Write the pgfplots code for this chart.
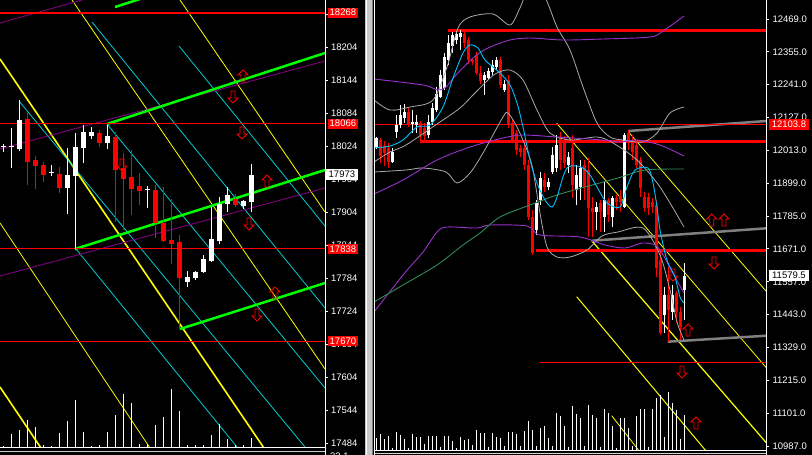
\documentclass[border=0pt]{standalone}
\usepackage{fontspec}
\setmainfont{Liberation Sans}
\usepackage{pgfplots}
\pgfplotsset{compat=1.18}
\usepackage{pgfplotstable}
\definecolor{mtred}{RGB}{255,0,0}
\definecolor{mtcyan}{RGB}{0,206,209}
\definecolor{mtpurple}{RGB}{128,0,128}
\definecolor{mtviolet}{RGB}{153,50,204}
\definecolor{mtsky}{RGB}{0,191,255}
\definecolor{mtsea}{RGB}{46,139,87}
\definecolor{mtgray}{RGB}{128,128,128}
\definecolor{mtsilver}{RGB}{170,170,170}
\definecolor{mtlime}{RGB}{0,255,0}
\definecolor{mtyellow}{RGB}{255,255,0}
\newcommand\tf{\fontsize{9.5}{10}\selectfont}
\pgfdeclareplotmark{uarr}{%
 \pgfpathmoveto{\pgfqpoint{0pt}{6pt}}\pgfpathlineto{\pgfqpoint{5pt}{1pt}}%
 \pgfpathlineto{\pgfqpoint{2pt}{1pt}}\pgfpathlineto{\pgfqpoint{2pt}{-6pt}}%
 \pgfpathlineto{\pgfqpoint{-2pt}{-6pt}}\pgfpathlineto{\pgfqpoint{-2pt}{1pt}}%
 \pgfpathlineto{\pgfqpoint{-5pt}{1pt}}\pgfpathclose\pgfusepathqstroke}
\pgfdeclareplotmark{darr}{%
 \pgfpathmoveto{\pgfqpoint{0pt}{-6pt}}\pgfpathlineto{\pgfqpoint{5pt}{-1pt}}%
 \pgfpathlineto{\pgfqpoint{2pt}{-1pt}}\pgfpathlineto{\pgfqpoint{2pt}{6pt}}%
 \pgfpathlineto{\pgfqpoint{-2pt}{6pt}}\pgfpathlineto{\pgfqpoint{-2pt}{-1pt}}%
 \pgfpathlineto{\pgfqpoint{-5pt}{-1pt}}\pgfpathclose\pgfusepathqstroke}
% left panel candles (x = bar position, prices)
\pgfplotstableread{
x o h l c
3.3 18023.8 18028.7 18014.2 18025.6
11.3 18023.3 18057.8 17985.0 18025.1
19.3 18019.6 18108.8 18016.0 18072.4
51.3 17975.9 17990.5 17970.5 17977.7
67.3 17948.6 18021.4 17901.3 17972.3
75.3 17970.5 18048.7 17837.6 18023.3
83.3 18021.4 18063.3 17994.1 18050.6
91.3 18042.4 18059.7 18038.7 18050.6
107.3 18030.5 18063.3 18019.6 18043.3
147.3 17945.0 17952.3 17912.2 17946.8
187.3 17777.6 17797.6 17768.5 17786.7
195.3 17784.9 17797.6 17781.2 17795.8
203.3 17795.8 17826.7 17794.0 17819.4
211.3 17815.8 17914.1 17814.0 17855.8
219.3 17852.2 17932.3 17846.7 17919.5
227.3 17919.5 17950.5 17905.0 17935.9
243.3 17915.9 17926.8 17910.4 17925.0
251.3 17923.2 17992.3 17905.0 17972.3
}\LW
\pgfplotstableread{
x o h l c
27.3 18074.2 18085.1 17954.1 17996.0
35.3 17999.6 18006.9 17946.9 17988.7
43.3 17990.5 17996.0 17959.6 17972.3
59.3 17974.1 17986.9 17939.5 17948.6
99.3 18048.7 18054.2 18023.3 18030.5
115.3 18041.5 18050.6 17886.8 17981.4
123.3 17985.0 18012.3 17872.2 17965.0
131.3 17968.7 18017.8 17899.5 17946.9
139.3 17952.3 17976.0 17917.7 17943.2
155.3 17945.0 17954.1 17857.6 17884.9
163.3 17884.9 17950.5 17850.4 17852.2
171.3 17854.0 17928.6 17810.3 17846.7
179.3 17850.4 17863.1 17692.0 17784.9
235.3 17928.6 17937.7 17914.1 17917.7
}\LR
\pgfplotstableread{
x v
3.3 1
11.3 13
19.3 17
27.3 27
35.3 20
43.3 2
51.3 1
59.3 14
67.3 26
75.3 47
83.3 15
91.3 1
99.3 2
107.3 15
115.3 32
123.3 53
131.3 44
139.3 3
147.3 3
155.3 22
163.3 30
171.3 58
179.3 36
187.3 2
195.3 2
203.3 2
211.3 12
219.3 23
227.3 8
235.3 2
243.3 2
251.3 9
}\LV
% right panel candles
\pgfplotstableread{
x o h l c
376.5 12024.7 12059.4 12017.7 12055.9
392.5 11972.6 12021.2 11969.1 12007.3
396.5 12076.7 12135.7 12055.9 12101.0
400.5 12101.0 12170.4 12090.6 12135.7
404.5 12125.3 12173.9 12108.0 12146.1
412.5 12104.5 12153.1 12073.3 12111.4
416.5 12101.0 12135.7 12073.3 12111.4
428.5 12066.3 12135.7 12055.9 12111.4
432.5 12111.4 12177.4 12101.0 12160.0
436.5 12153.1 12232.9 12146.1 12208.6
440.5 12198.2 12291.9 12194.7 12274.6
444.5 12229.5 12350.9 12222.5 12337.1
448.5 12326.6 12413.4 12309.3 12385.6
452.5 12375.2 12423.8 12350.9 12413.4
456.5 12396.1 12427.3 12382.2 12416.9
460.5 12406.5 12430.8 12361.3 12420.4
484.5 12257.2 12285.0 12205.2 12274.6
488.5 12264.2 12298.9 12257.2 12288.5
492.5 12285.0 12326.6 12274.6 12309.3
496.5 12302.3 12337.1 12291.9 12326.6
504.5 12222.5 12257.2 12215.6 12243.3
536.5 11736.6 11840.7 11719.2 11830.3
540.5 11840.7 11937.9 11823.3 11917.1
548.5 11885.8 11917.1 11875.4 11903.2
552.5 11937.9 12024.7 11930.9 11996.9
556.5 11951.8 12066.3 11937.9 12031.6
568.5 11962.2 12007.3 11934.4 11990.0
576.5 11875.4 11962.2 11823.3 11927.5
580.5 11885.8 11979.5 11840.7 11951.8
596.5 11799.0 11833.8 11736.6 11816.4
604.5 11781.7 11903.2 11729.6 11840.7
612.5 11781.7 11854.6 11747.0 11847.6
624.5 11816.4 12073.3 11812.9 12066.3
664.5 11441.5 11538.7 11379.1 11511.0
672.5 11452.0 11545.7 11424.2 11511.0
684.5 11528.3 11622.0 11424.2 11576.9
}\RW
\pgfplotstableread{
x o h l c
380.5 12049.0 12055.9 11969.1 11993.4
384.5 12028.1 12045.5 11958.7 12003.8
388.5 12021.2 12038.5 11951.8 11972.6
408.5 12146.1 12160.0 12094.1 12101.0
420.5 12108.0 12114.9 12049.0 12066.3
424.5 12090.6 12108.0 12049.0 12062.8
464.5 12416.9 12427.3 12368.3 12385.6
468.5 12396.1 12406.5 12312.8 12326.6
472.5 12326.6 12333.6 12309.3 12319.7
476.5 12344.0 12354.4 12274.6 12281.5
480.5 12281.5 12305.8 12243.3 12253.7
500.5 12326.6 12337.1 12229.5 12239.9
508.5 12257.2 12274.6 12090.6 12101.0
512.5 12108.0 12118.4 12038.5 12045.5
516.5 12073.3 12083.7 11996.9 12014.2
520.5 12021.2 12031.6 11990.0 12007.3
524.5 12021.2 12038.5 11944.8 11962.2
528.5 11962.2 11979.5 11771.3 11781.7
532.5 11781.7 11806.0 11649.8 11656.7
544.5 11910.1 11934.4 11868.5 11885.8
560.5 12059.4 12076.7 11944.8 11979.5
564.5 12049.0 12062.8 11951.8 11969.1
572.5 12021.2 12066.3 11847.6 11892.8
584.5 11962.2 11979.5 11840.7 11885.8
588.5 11944.8 11986.5 11712.3 11812.9
592.5 11812.9 11851.1 11712.3 11799.0
600.5 11830.3 11840.7 11729.6 11799.0
608.5 11840.7 11847.6 11764.3 11788.6
616.5 11847.6 11858.1 11806.0 11833.8
620.5 11854.6 11875.4 11799.0 11833.8
628.5 12073.3 12083.7 12014.2 12038.5
632.5 12042.0 12066.3 11979.5 12007.3
636.5 12031.6 12042.0 11951.8 11962.2
640.5 11979.5 11990.0 11851.1 11882.4
644.5 11851.1 11868.5 11799.0 11812.9
648.5 11851.1 11865.0 11788.6 11812.9
652.5 11833.8 11847.6 11795.6 11816.4
656.5 11823.3 11840.7 11573.4 11604.7
660.5 11632.4 11660.2 11372.1 11379.1
668.5 11511.0 11608.1 11347.8 11458.9
676.5 11517.9 11524.8 11413.8 11452.0
680.5 11452.0 11469.3 11354.8 11399.9
}\RR
\pgfplotstableread{
x v
376.5 12
380.5 16
384.5 11
388.5 14
392.5 2
396.5 18
400.5 15
404.5 11
408.5 2
412.5 16
416.5 13
420.5 13
424.5 6
428.5 14
432.5 14
436.5 14
440.5 3
444.5 14
448.5 14
452.5 9
456.5 2
460.5 13
464.5 10
468.5 11
472.5 5
476.5 20
480.5 17
484.5 17
488.5 3
492.5 17
496.5 13
500.5 12
504.5 4
508.5 18
512.5 18
516.5 16
520.5 4
524.5 19
528.5 29
532.5 20
536.5 4
540.5 22
544.5 24
548.5 12
552.5 4
556.5 37
560.5 34
564.5 24
568.5 3
572.5 44
576.5 36
580.5 32
584.5 4
588.5 45
592.5 35
596.5 32
600.5 3
604.5 41
608.5 37
612.5 24
616.5 2
620.5 32
624.5 32
628.5 22
632.5 4
636.5 34
640.5 41
644.5 41
648.5 3
652.5 41
656.5 52
660.5 55
664.5 13
668.5 58
672.5 47
676.5 40
680.5 11
684.5 35
}\RV
\pgfplotsset{
  Lbox/.style={at={(0pt,-447pt)}, anchor=south west, scale only axis, width=325pt, height=447pt, xmin=0, xmax=325},
  Rbox/.style={at={(374pt,-450pt)}, anchor=south west, scale only axis, width=392.5pt, height=450pt, xmin=374, xmax=766.5},
  price/.style={axis line style={draw=none}, xtick=\empty, ytick pos=right, yticklabel pos=right,
    tick align=outside, major tick length=2.5pt, ytick style={white, line width=0.8pt},
    yticklabel style={text=white, font=\tf}, clip mode=individual},
  arrowsU/.style={only marks, mark=uarr, mark options={draw=mtred, line width=0.9pt, solid}},
  arrowsD/.style={only marks, mark=darr, mark options={draw=mtred, line width=0.9pt, solid}},
}
\begin{document}
\begin{tikzpicture}
\useasboundingbox (0pt,0pt) rectangle (812pt,-455pt);
\fill[black] (0pt,0pt) rectangle (812pt,-455pt);
\clip (0pt,0pt) rectangle (812pt,-455pt);
% ---------- LEFT PANEL: drawn objects (pixel frame) ----------
\begin{axis}[Lbox, hide axis, ymin=0, ymax=447, y dir=reverse]
\addplot[mtyellow, line width=1.6pt] coordinates {(0,59) (266,451)};
\addplot[mtyellow, line width=1.6pt] coordinates {(0,387) (43,451)};
\addplot[mtyellow, line width=0.8pt] coordinates {(0,223) (152,451)};
\addplot[mtyellow, line width=0.8pt] coordinates {(72,0) (325,369)};
\addplot[mtyellow, line width=0.8pt] coordinates {(180,0) (325,212)};
\addplot[mtcyan, line width=0.8pt] coordinates {(19,101) (305,447)};
\addplot[mtcyan, line width=0.8pt] coordinates {(92,22) (325,308)};
\addplot[mtcyan, line width=0.8pt] coordinates {(179,46) (325,226)};
\addplot[mtcyan, line width=0.8pt] coordinates {(107,124) (325,388)};
\addplot[mtcyan, line width=0.8pt] coordinates {(76,249) (237,447)};
\addplot[mtpurple, line width=0.9pt] coordinates {(0,23) (82,0)};
\addplot[mtpurple, line width=0.9pt] coordinates {(0,149) (325,61)};
\addplot[mtpurple, line width=0.9pt] coordinates {(0,276) (325,188)};
\addplot[mtlime, line width=2.5pt] coordinates {(107,124) (325,53)};
\addplot[mtlime, line width=2.5pt] coordinates {(115,7) (140,-1)};
\addplot[mtlime, line width=2.5pt] coordinates {(75,249) (325,170)};
\addplot[mtlime, line width=2.5pt] coordinates {(180,329) (325,283)};
\end{axis}
% volume
\begin{axis}[Lbox, hide axis, ymin=0, ymax=447]
\addplot[white, line width=1pt, ycomb] table[x=x, y=v] {\LV};
\end{axis}
% prices
\begin{axis}[Lbox, price, ymin=17477.3, ymax=18290.8,
  ytick={17484,17544,17604,17664,17724,17784,17844,17904,17964,18024,18084,18144,18204,18264},
  yticklabels={17484,17544,17604,17664,17724,17784,17844,17904,17964,18024,18084,18144,18204,18264}]
\addplot[mtred, line width=2pt] coordinates {(0,18268) (325,18268)};
\addplot[mtred, line width=1.3pt] coordinates {(0,18066) (325,18066)};
\addplot[mtred, line width=1pt] coordinates {(0,17838) (325,17838)};
\addplot[mtred, line width=1pt] coordinates {(0,17670) (325,17670)};
\addplot[white, line width=1pt, quiver={u=0, v=\thisrow{h}-\thisrow{l}}] table[x=x, y=l] {\LW};
\addplot[white, line width=5pt, quiver={u=0, v=\thisrow{c}-\thisrow{o}}] table[x=x, y=o] {\LW};
\addplot[mtred, line width=1pt, quiver={u=0, v=\thisrow{h}-\thisrow{l}}] table[x=x, y=l] {\LR};
\addplot[mtred, line width=5pt, quiver={u=0, v=\thisrow{c}-\thisrow{o}}] table[x=x, y=o] {\LR};
\addplot[arrowsU] coordinates {(243,18152.5) (267,17961.4) (275,17757.5)};
\addplot[arrowsD] coordinates {(233,18114.3) (242,18048.7) (249,17883.1) (257,17717.5) (228,18294.4) (122,17990.5)};
\node[fill=mtred, text=white, font=\tf, inner sep=0pt, minimum width=30pt, minimum height=10pt, anchor=west] at (axis cs:327.7,18268) {18268};
\node[fill=mtred, text=white, font=\tf, inner sep=0pt, minimum width=30pt, minimum height=10pt, anchor=west] at (axis cs:327.7,18066) {18066};
\node[fill=white, text=black, font=\tf, inner sep=0pt, minimum width=33pt, minimum height=10.5pt, anchor=west] at (axis cs:325.2,17973) {17973};
\node[fill=mtred, text=white, font=\tf, inner sep=0pt, minimum width=30pt, minimum height=10pt, anchor=west] at (axis cs:327.7,17838) {17838};
\node[fill=mtred, text=white, font=\tf, inner sep=0pt, minimum width=30pt, minimum height=10pt, anchor=west] at (axis cs:327.7,17670) {17670};
\end{axis}
% ---------- RIGHT PANEL: drawn objects ----------
\begin{axis}[Rbox, hide axis, ymin=0, ymax=450, y dir=reverse]
\addplot[mtyellow, line width=0.8pt] coordinates {(556.7,123.3) (766.5,368)};
\addplot[mtyellow, line width=0.8pt] coordinates {(628.3,131.7) (766.5,291.7)};
\addplot[mtyellow, line width=1.2pt] coordinates {(591.7,240.7) (766.5,443)};
\addplot[mtyellow, line width=1pt] coordinates {(576.7,296.7) (706.7,451.7)};
\addplot[mtyellow, line width=0.8pt] coordinates {(611.7,415.7) (640,452)};
\addplot[mtgray, line width=2.5pt] coordinates {(628,131) (766.5,121)};
\addplot[mtgray, line width=2.5pt] coordinates {(591.7,240.7) (766.5,228.3)};
\addplot[mtgray, line width=2.5pt] coordinates {(667.7,341.7) (766.5,335.7)};
\end{axis}
\begin{axis}[Rbox, hide axis, ymin=0, ymax=450]
\addplot[white, line width=1pt, ycomb] table[x=x, y=v] {\RV};
\end{axis}
\begin{axis}[Rbox, price, ymin=10972.95, ymax=12534.9,
  ytick={10987,11101,11215,11329,11443,11557,11671,11785,11899,12013,12127,12241,12355,12469},
  yticklabels={10987.0,11101.0,11215.0,11329.0,11443.0,11557.0,11671.0,11785.0,11899.0,12013.0,12127.0,12241.0,12355.0,12469.0}]
\addplot[mtred, line width=2.5pt] coordinates {(448,12429.0) (766.5,12429.0)};
\addplot[mtred, line width=1pt] coordinates {(374,12103.8) (766.5,12103.8)};
\addplot[mtred, line width=2.5pt] coordinates {(420,12043) (766.5,12043)};
\addplot[mtred, line width=2.5pt] coordinates {(535.7,11665.1) (766.5,11665.1)};
\addplot[mtred, line width=1.3pt] coordinates {(540,11276.7) (766.5,11276.7)};
\addplot[white, line width=1pt, quiver={u=0, v=\thisrow{h}-\thisrow{l}}] table[x=x, y=l] {\RW};
\addplot[white, line width=3pt, quiver={u=0, v=\thisrow{c}-\thisrow{o}}] table[x=x, y=o] {\RW};
\addplot[mtred, line width=1pt, quiver={u=0, v=\thisrow{h}-\thisrow{l}}] table[x=x, y=l] {\RR};
\addplot[mtred, line width=3pt, quiver={u=0, v=\thisrow{c}-\thisrow{o}}] table[x=x, y=o] {\RR};
\addplot[arrowsU] coordinates {(711.7,11771.3) (724,11771.3) (688,11389.5) (696,11066.7)};
\addplot[arrowsD] coordinates {(714,11622.0) (673,11580.4) (682,11243.7)};
\node[fill=mtred, text=white, font=\tf, inner sep=0pt, minimum width=39.5pt, minimum height=10.7pt, anchor=west] at (axis cs:769,12103.8) {12103.8};
\node[fill=white, text=black, font=\tf, inner sep=0pt, minimum width=39.5pt, minimum height=10.7pt, anchor=west] at (axis cs:769,11579.5) {11579.5};
\end{axis}
% indicators
\begin{axis}[Rbox, hide axis, ymin=0, ymax=450, y dir=reverse]
\addplot[mtsilver, line width=0.8pt, smooth] coordinates {(374,100) (390,110) (410,107) (433,100) (447,67) (458,28) (470,17) (493,14) (510,25) (520,8) (527,-6) (543,-6) (557,27) (570,50) (583,87) (597,123) (610,137) (623,140) (643,142) (657,133) (670,113) (684,107)};
\addplot[mtsilver, line width=0.8pt, smooth] coordinates {(374,162) (390,152) (406,145) (440,122) (460,108) (473,95) (488,80) (497,73) (510,70) (523,80) (537,110) (550,133) (570,140) (597,137) (613,143) (637,160) (660,187) (684,227)};
\addplot[mtsilver, line width=0.8pt, smooth] coordinates {(374,172) (406,170) (423,168) (446,172) (457,183) (470,173) (483,153) (503,117) (508,113) (517,127) (527,150) (533,170) (540,213) (547,247) (557,257) (570,257) (587,250) (602,236) (618,232) (643,228) (660,255) (670,290) (677,322) (684,340)};
\addplot[mtviolet, line width=0.9pt, smooth] coordinates {(374,79) (423,85) (438,90) (446,87) (456,75) (473,58) (488,48) (510,40) (530,38) (563,40) (603,39) (650,37) (663,31) (684,16)};
\addplot[mtviolet, line width=0.9pt, smooth] coordinates {(374,194) (403,180) (437,160) (470,147) (503,138) (523,135) (557,137) (603,140) (620,142) (637,140) (660,145) (684,156)};
\addplot[mtviolet, line width=0.9pt, smooth] coordinates {(374,312) (403,275) (423,252) (437,232) (447,227) (477,228) (490,225) (527,226) (540,235) (580,237) (605,245) (625,248) (642,243) (655,245) (662,253) (670,268) (675,277) (684,293)};
\addplot[mtsea, line width=0.9pt, smooth] coordinates {(374,302) (403,285) (437,265) (463,245) (480,233) (500,217) (530,205) (557,195) (585,187) (618,178) (645,170) (684,169)};
\addplot[mtsky, line width=0.9pt, smooth] coordinates {(374,148) (390,146) (403,140) (417,127) (430,125) (443,107) (453,78) (463,53) (470,45) (478,48) (485,60) (500,73) (510,85) (517,103) (523,127) (530,160) (537,183) (545,200) (552,207) (557,197) (563,177) (568,167) (577,166) (583,168) (590,175) (597,187) (607,203) (620,207) (627,187) (635,170) (648,168) (653,183) (657,207) (660,230) (665,253) (668,263) (675,277) (680,297) (684,303)};
\end{axis}
% frame lines
\draw[white, line width=1pt] (325pt,0pt) -- (325pt,-455pt);
\draw[white, line width=1pt] (0pt,-447.5pt) -- (325pt,-447.5pt);
\draw[white!80!black, line width=0.8pt] (0pt,-451pt) -- (325pt,-451pt);
\node[text=white, font=\tf, anchor=north west, inner sep=0pt] at (330pt,-452.5pt) {23.1};
\fill[gray!45] (365pt,0pt) rectangle (373pt,-455pt);
\draw[white, line width=1pt] (366.5pt,0pt) -- (366.5pt,-455pt);
\draw[gray, line width=1pt] (372.3pt,0pt) -- (372.3pt,-455pt);
\draw[white, line width=1pt] (374.5pt,0pt) -- (374.5pt,-455pt);
\draw[white, line width=1pt] (766.5pt,0pt) -- (766.5pt,-455pt);
\draw[white, line width=1pt] (374.5pt,-450.3pt) -- (766.5pt,-450.3pt);
\draw[white!80!black, line width=0.8pt] (374.5pt,-453.7pt) -- (766.5pt,-453.7pt);
\end{tikzpicture}
\end{document}
